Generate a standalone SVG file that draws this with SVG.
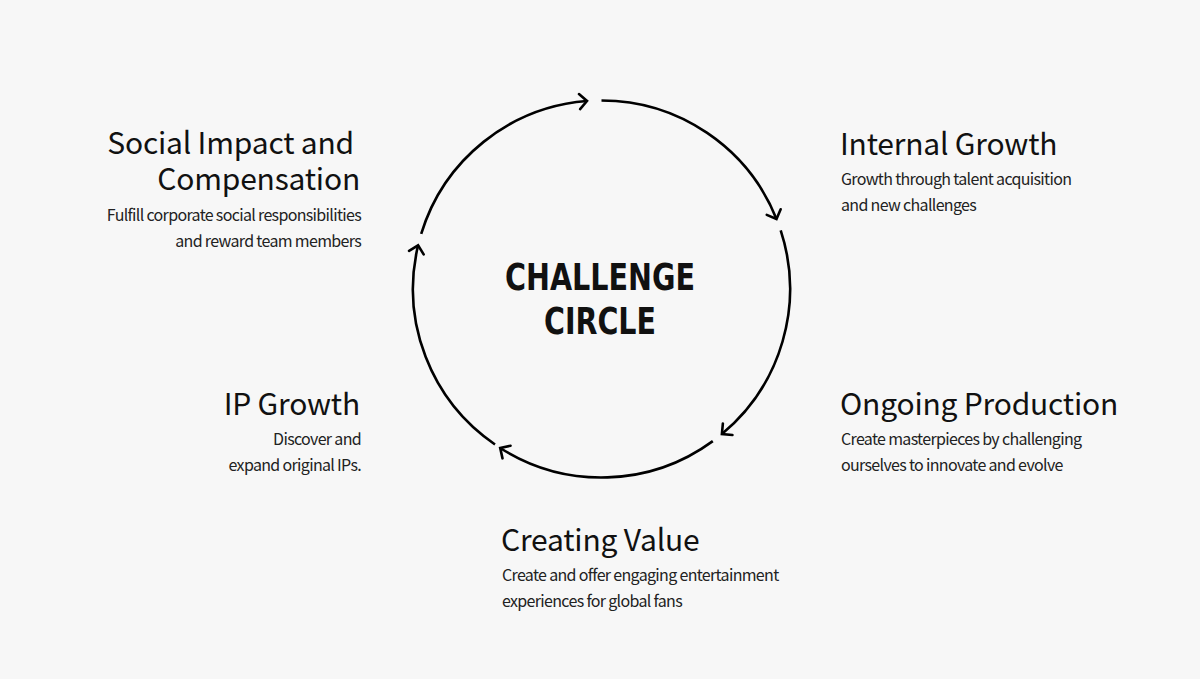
<svg xmlns="http://www.w3.org/2000/svg" width="1200" height="679" viewBox="0 0 1200 679">
<style>
.h{font-family:"Noto Sans CJK KR","Noto Sans",sans-serif;font-size:30px;fill:#111;letter-spacing:-0.2px;}
.b{font-family:"Noto Sans CJK KR","Noto Sans",sans-serif;font-size:16px;fill:#222;letter-spacing:-0.67px;}
.r{text-anchor:end;}
.t{font-family:"DejaVu Sans Condensed","DejaVu Sans",sans-serif;font-weight:bold;font-size:38px;fill:#111;}
.arc{fill:none;stroke:#000;stroke-width:2.6;marker-end:url(#ah);}
</style>
<defs>
<marker id="ah" markerUnits="userSpaceOnUse" markerWidth="24" markerHeight="24" refX="12" refY="12" orient="auto">
<path d="M4.5,4.5 L12,12 L4.5,19.5" fill="none" stroke="#000" stroke-width="2.6" stroke-linecap="round" stroke-linejoin="miter"/>
</marker>
</defs>
<rect width="1200" height="679" fill="#f7f7f7"/>
<g id="connectors">
<path class="arc" d="M601.5,100.5 A188.5,188.5 0 0 1 776.5,219"/>
<path class="arc" d="M780.7,230.4 A188.5,188.5 0 0 1 721.9,434"/>
<path class="arc" d="M712.8,441.1 A188.5,188.5 0 0 1 500.2,448"/>
<path class="arc" d="M495,444.5 A188.5,188.5 0 0 1 418.1,245.3"/>
<path class="arc" d="M421.2,233.9 A188.5,188.5 0 0 1 587,101"/>
</g>
<g id="center">
<text class="t" x="600" y="289.5" text-anchor="middle" textLength="190" lengthAdjust="spacingAndGlyphs">CHALLENGE</text>
<text class="t" x="600" y="333.5" text-anchor="middle" textLength="112" lengthAdjust="spacingAndGlyphs">CIRCLE</text>
</g>
<g id="internal-growth">
<text class="h" x="840" y="155">Internal Growth</text>
<text class="b" x="841" y="185">Growth through talent acquisition</text>
<text class="b" x="841" y="211">and new challenges</text>
</g>
<g id="ongoing-production">
<text class="h" x="840" y="415">Ongoing Production</text>
<text class="b" x="841" y="445">Create masterpieces by challenging</text>
<text class="b" x="841" y="471">ourselves to innovate and evolve</text>
</g>
<g id="creating-value">
<text class="h" x="501" y="551">Creating Value</text>
<text class="b" x="502" y="581">Create and offer engaging entertainment</text>
<text class="b" x="502" y="607">experiences for global fans</text>
</g>
<g id="ip-growth">
<text class="h r" x="360" y="415">IP Growth</text>
<text class="b r" x="361" y="445">Discover and</text>
<text class="b r" x="361" y="471">expand original IPs.</text>
</g>
<g id="social-impact">
<text class="h r"><tspan x="354" y="154">Social Impact and</tspan><tspan x="360" y="190">Compensation</tspan></text>
<text class="b r" x="361" y="221">Fulfill corporate social responsibilities</text>
<text class="b r" x="361" y="247">and reward team members</text>
</g>
</svg>
